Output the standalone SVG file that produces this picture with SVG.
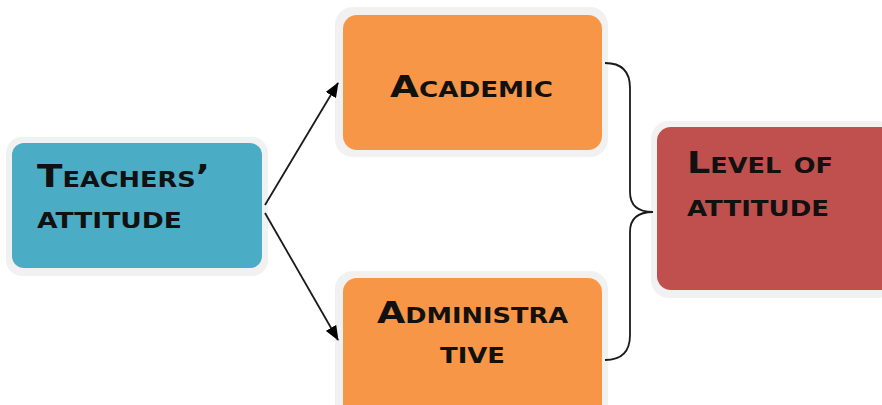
<svg xmlns="http://www.w3.org/2000/svg" width="882" height="405" viewBox="0 0 882 405">
<defs>
<style>
.frame{fill:#f1f1f1;}
.lbl{font-family:"DejaVu Sans","Liberation Sans",sans-serif;font-weight:bold;font-variant:small-caps;fill:#111;font-size:30px;}
.conn{fill:none;stroke:#1a1a1a;stroke-width:1.8;}
</style>
<marker id="ah" viewBox="0 0 15 12" refX="14" refY="6" markerWidth="15" markerHeight="12" markerUnits="userSpaceOnUse" orient="auto">
<path d="M0,0 L15,6 L0,12 z" fill="#000"/>
</marker>
</defs>
<rect width="882" height="405" fill="#fff"/>
<g id="teachers">
<rect class="frame" x="6" y="137" width="262" height="139" rx="16"/>
<rect x="12" y="143" width="250" height="125" rx="12" fill="#4bacc6"/>
<text class="lbl" x="37" y="187" textLength="173" lengthAdjust="spacingAndGlyphs" style="font-size:32px">Teachers’</text>
<text class="lbl" x="37" y="228" textLength="145" lengthAdjust="spacingAndGlyphs" style="font-size:32px">attitude</text>
</g>
<g id="academic">
<rect class="frame" x="335" y="7" width="273" height="150" rx="18"/>
<rect x="343" y="15" width="259" height="135" rx="14" fill="#f79646"/>
<text class="lbl" x="390" y="97" textLength="163" lengthAdjust="spacingAndGlyphs">Academic</text>
</g>
<g id="administrative">
<rect class="frame" x="335" y="271" width="273" height="150" rx="18"/>
<rect x="343" y="278" width="259" height="140" rx="14" fill="#f79646"/>
<text class="lbl" x="377" y="323" textLength="191" lengthAdjust="spacingAndGlyphs">Administra</text>
<text class="lbl" x="440" y="363" textLength="65" lengthAdjust="spacingAndGlyphs">tive</text>
</g>
<g id="level">
<rect class="frame" x="651" y="121" width="245" height="177" rx="18"/>
<rect x="657" y="127" width="240" height="163" rx="14" fill="#c0504d"/>
<text class="lbl" x="687" y="173" textLength="146" lengthAdjust="spacingAndGlyphs">Level of</text>
<text class="lbl" x="687" y="216" textLength="142" lengthAdjust="spacingAndGlyphs">attitude</text>
</g>
<g id="connectors">
<path class="conn" d="M265,205 L338,83" marker-end="url(#ah)"/>
<path class="conn" d="M265,213 L338,340" marker-end="url(#ah)"/>
<path class="conn" d="M605,63 Q630,63 630,88 L630,192 Q630,212 653,212 Q630,212 630,232 L630,335 Q630,360 605,360"/>
</g>
</svg>
